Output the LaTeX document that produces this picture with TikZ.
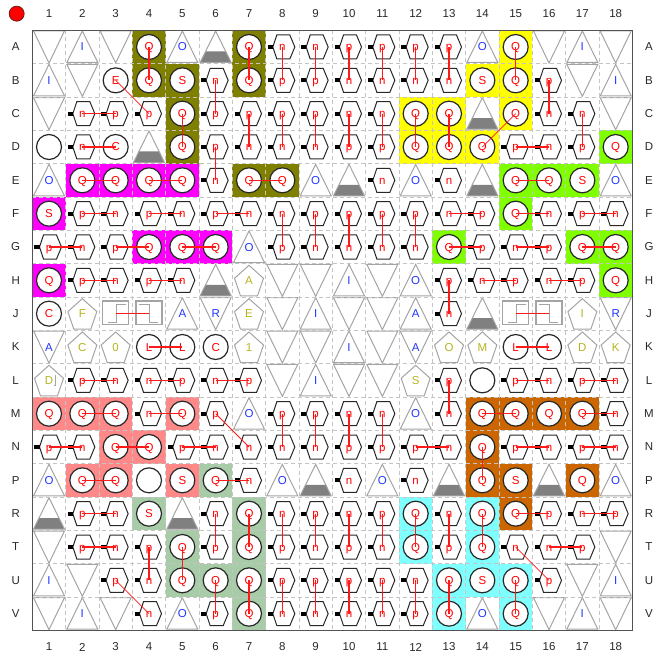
\documentclass[tikz,border=0pt]{standalone}
\usepackage{fontspec}
\setmainfont{Liberation Sans}
\definecolor{cellolive}{HTML}{808000}
\definecolor{cellmagenta}{HTML}{FF00FF}
\definecolor{cellyellow}{HTML}{FFFF00}
\definecolor{celllime}{HTML}{80FF00}
\definecolor{cellsalmon}{HTML}{FF8888}
\definecolor{cellorange}{HTML}{CC6600}
\definecolor{cellsage}{HTML}{A8CCA8}
\definecolor{cellcyan}{HTML}{80FFFF}
\definecolor{gridgrey}{HTML}{C4C4C4}
\definecolor{shapegrey}{HTML}{A4A4A4}
\definecolor{footgrey}{HTML}{808080}
\definecolor{hexdark}{HTML}{282828}
\definecolor{wirered}{HTML}{FF1A1A}
\definecolor{padblue}{HTML}{2036FF}
\definecolor{padolive}{HTML}{B4B41E}
\tikzset{
	atcell/.style={shift={(path picture bounding box.center)}},
	celltext/.style={inner sep=0pt,outer sep=0pt,text height=8pt,text depth=0pt,font=\fontsize{11.5}{12}\selectfont,text=#1},
	cellbox/.style={rectangle,inner sep=0pt,outer sep=0pt,minimum size=33.33pt},
	hx/.style={cellbox,label={[celltext=red]center:\txt},path picture={
		\draw[hexdark,line width=1pt,atcell] (-9.5pt,0pt) -- (-5.5pt,12pt) -- (7.5pt,12pt) -- (12.5pt,0pt) -- (7.5pt,-12pt) -- (-5.5pt,-12pt) -- cycle;
		\fill[black,atcell] (-14.5pt,-2pt) rectangle (-9.5pt,2pt);}},
	cr/.style={cellbox,label={[celltext=red]center:\txt},path picture={
		\filldraw[draw=hexdark,fill=white,line width=1.2pt,atcell] (0pt,0pt) circle (12.5pt);}},
	olv/.style={cr,fill=cellolive},
	mag/.style={cr,fill=cellmagenta},
	yel/.style={cr,fill=cellyellow},
	lim/.style={cr,fill=celllime},
	sal/.style={cr,fill=cellsalmon},
	org/.style={cr,fill=cellorange},
	sag/.style={cr,fill=cellsage},
	cyn/.style={cr,fill=cellcyan},
	tup/.style={cellbox,label={[celltext=padblue]center:\txt},path picture={
		\draw[shapegrey,line width=1pt,atcell] (0pt,16pt) -- (15.5pt,-15.5pt) -- (-15.5pt,-15.5pt) -- cycle;}},
	tdn/.style={cellbox,label={[celltext=padblue]center:\txt},path picture={
		\draw[shapegrey,line width=1pt,atcell] (0pt,-16pt) -- (15.5pt,16pt) -- (-15.5pt,16pt) -- cycle;}},
	gnd/.style={cellbox,path picture={
		\fill[footgrey,atcell] (-10.1pt,-4.5pt) -- (10.1pt,-4.5pt) -- (15.5pt,-15.5pt) -- (-15.5pt,-15.5pt) -- cycle;
		\draw[shapegrey,line width=1pt,atcell] (0pt,16pt) -- (15.5pt,-15.5pt) -- (-15.5pt,-15.5pt) -- cycle;}},
	pnt/.style={cellbox,label={[celltext=padolive]center:\txt},path picture={
		\draw[shapegrey,line width=1pt,atcell] (0pt,15pt) -- (14.5pt,2pt) -- (8.5pt,-15.5pt) -- (-8.5pt,-15.5pt) -- (-14.5pt,2pt) -- cycle;}},
	stpu/.style={cellbox,path picture={
		\draw[shapegrey,line width=1.4pt,atcell] (-13pt,-10.7pt) rectangle (13pt,12.7pt);
		\draw[shapegrey,line width=.9pt,atcell] (-8pt,-8.7pt) -- (.7pt,-8.7pt) -- (.7pt,9.7pt) -- (10pt,9.7pt);}},
	stpd/.style={cellbox,path picture={
		\draw[shapegrey,line width=1.4pt,atcell] (-13pt,-10.7pt) rectangle (13pt,12.7pt);
		\draw[shapegrey,line width=.9pt,atcell] (-10.5pt,9.7pt) -- (0pt,9.7pt) -- (0pt,-8.7pt) -- (8.5pt,-8.7pt);}},
	axislabel/.style={inner sep=0pt,text=hexdark,font=\fontsize{11.5}{12}\selectfont},
	wire/.style={wirered,line width=1.2pt},
	wirediag/.style={wirered,line width=.8pt}
}
\begin{document}
\begin{tikzpicture}[x=33.33pt,y=-33.33pt]
	\useasboundingbox (-0.47,-0.41) rectangle (19.21,19.27);
	\foreach \rowname/\cells [count=\rowy] in {
		A/{tdn/,tup/I,tdn/,olv/Q,tup/O,gnd/,olv/Q,hx/n,hx/n,hx/p,hx/p,hx/p,hx/p,tup/O,yel/Q,tdn/,tup/I,tdn/},
		B/{tup/I,tdn/,cr/E,olv/Q,olv/S,hx/n,olv/Q,hx/p,hx/p,hx/n,hx/n,hx/n,hx/n,yel/S,yel/Q,hx/p,tdn/,tup/I},
		C/{tdn/,hx/n,hx/p,hx/p,olv/Q,hx/p,hx/p,hx/p,hx/p,hx/n,hx/n,yel/Q,yel/Q,gnd/,yel/Q,hx/n,hx/n,tdn/},
		D/{cr/,hx/n,cr/C,gnd/,olv/Q,hx/p,hx/n,hx/n,hx/n,hx/p,hx/p,yel/Q,yel/Q,yel/Q,hx/p,hx/n,hx/p,lim/Q},
		E/{tup/O,mag/Q,mag/Q,mag/Q,mag/Q,hx/n,olv/Q,olv/Q,tup/O,gnd/,hx/n,tup/O,hx/n,gnd/,lim/Q,lim/Q,lim/S,tup/O},
		F/{mag/S,hx/p,hx/n,hx/p,hx/n,hx/p,hx/n,hx/n,hx/p,hx/p,hx/p,hx/p,hx/n,hx/p,lim/Q,hx/n,hx/p,hx/n},
		G/{hx/p,hx/n,hx/p,mag/Q,mag/Q,mag/Q,tup/O,hx/p,hx/n,hx/n,hx/n,hx/n,lim/Q,hx/p,hx/n,hx/p,lim/Q,lim/Q},
		H/{mag/Q,hx/p,hx/n,hx/p,hx/n,gnd/,pnt/A,tdn/,tdn/,tup/I,tdn/,tup/O,hx/p,hx/n,hx/p,hx/n,hx/p,lim/Q},
		J/{cr/C,pnt/F,stpu/,stpd/,tup/A,tdn/R,pnt/E,tdn/,tup/I,tdn/,tdn/,tup/A,hx/n,gnd/,stpu/,stpd/,pnt/I,tdn/R},
		K/{tdn/A,pnt/C,pnt/0,cr/L,cr/L,cr/C,pnt/1,tdn/,tdn/,tup/I,tdn/,tdn/A,pnt/O,pnt/M,cr/L,cr/L,pnt/D,pnt/K},
		L/{pnt/D,hx/p,hx/n,hx/n,hx/p,hx/n,hx/p,tdn/,tup/I,tdn/,tdn/,pnt/S,hx/p,cr/,hx/p,hx/n,hx/p,hx/n},
		M/{sal/Q,sal/Q,sal/Q,hx/n,sal/Q,hx/p,tup/O,hx/p,hx/p,hx/n,hx/n,tup/O,hx/n,org/Q,org/Q,org/Q,org/Q,hx/n},
		N/{hx/p,hx/n,sal/Q,sal/Q,hx/p,hx/n,hx/n,hx/n,hx/n,hx/p,hx/p,hx/p,hx/n,org/Q,hx/p,hx/n,hx/p,hx/n},
		P/{tup/O,sal/Q,sal/Q,cr/,sal/S,sag/Q,hx/n,tup/O,gnd/,hx/n,tup/O,hx/n,gnd/,org/Q,org/S,gnd/,org/Q,tup/O},
		R/{gnd/,hx/p,hx/n,sag/S,gnd/,hx/n,sag/Q,hx/n,hx/p,hx/n,hx/p,cyn/Q,hx/n,cyn/Q,org/Q,hx/p,hx/n,hx/p},
		T/{tdn/,hx/p,hx/n,hx/p,sag/Q,hx/p,sag/Q,hx/p,hx/n,hx/p,hx/n,cyn/Q,hx/p,cyn/Q,hx/n,hx/n,hx/p,tdn/},
		U/{tup/I,tdn/,hx/p,hx/n,sag/Q,sag/Q,sag/Q,hx/p,hx/p,hx/p,hx/p,hx/n,cyn/Q,cyn/S,cyn/Q,hx/p,tdn/,tup/I},
		V/{tdn/,tup/I,tdn/,hx/n,tup/O,hx/p,sag/Q,hx/n,hx/n,hx/n,hx/n,hx/p,cyn/Q,tup/O,cyn/Q,tdn/,tup/I,tdn/}} {
		\node[axislabel] (left\rowname) at (0,\rowy) {\rowname};
		\node[axislabel] (right\rowname) at (19,\rowy) {\rowname};
		\foreach \kind/\txt [count=\col] in \cells
			\node[\kind] (\rowname\col) at (\col,\rowy) {};
	}
	\foreach \col in {1,...,18} {
		\node[axislabel] (top\col) at (\col,0) {\col};
		\node[axislabel] (bot\col) at (\col,19) {\col};
	}
	\node[circle,inner sep=0pt,minimum size=15pt,fill=red,draw=hexdark!70!red,line width=.8pt] (pinone) at (0.03,0) {};
	\foreach \k in {1.5,2.5,...,17.5} {
		\draw[gridgrey,line width=.8pt,dash pattern=on 4pt off 3pt] (\k,.5) -- (\k,18.5);
		\draw[gridgrey,line width=.8pt,dash pattern=on 4pt off 3pt] (.5,\k) -- (18.5,\k);
	}
	\draw[hexdark!80,line width=1.4pt] (.5,.5) rectangle (18.5,18.5);
	\draw[shapegrey,line width=.8pt] ([shift={(4.5pt,-5pt)}]L1.center) -- ++(2pt,0pt) -- ++(0pt,10pt);
	\foreach \from/\to in {
		A4/B4,A7/B7,A8/B8,A9/B9,A10/B10,A11/B11,A12/B12,A13/B13,A15/B15,
		B6/C6,B16/C16,C2/C3,C5/D5,C7/D7,C8/D8,C9/D9,C10/D10,C11/D11,C12/D12,C13/D13,C17/D17,
		D2/D3,D6/E6,D15/D16,E2/E3,E4/E5,E7/E8,E15/E16,
		F2/F3,F4/F5,F6/F7,F8/G8,F9/G9,F10/G10,F11/G11,F12/G12,F13/F14,F15/F16,F17/F18,
		G1/G2,G3/G4,G5/G6,G13/G14,G15/G16,G17/G18,
		H2/H3,H4/H5,H13/J13,H14/H15,H16/H17,J3/J4,J15/J16,K4/K5,K15/K16,
		L2/L3,L4/L5,L6/L7,L13/M13,L15/L16,L17/L18,
		M2/M3,M4/M5,M8/N8,M9/N9,M10/N10,M11/N11,M14/M15,M17/M18,
		N1/N2,N3/N4,N5/N6,N12/N13,N14/P14,N15/N16,N17/N18,P2/P3,P6/P7,
		R2/R3,R6/T6,R7/T7,R8/T8,R9/T9,R10/T10,R11/T11,R12/T12,R13/T13,R14/T14,R15/R16,R17/R18,
		T2/T3,T4/U4,T5/U5,T16/T17,
		U6/V6,U7/V7,U8/V8,U9/V9,U10/V10,U11/V11,U12/V12,U13/V13,U15/V15}
		\draw[wire] (\from.center) -- (\to.center);
	\foreach \from/\to in {B3/C4,C15/D14,M6/N7,T15/U16,U3/V4}
		\draw[wirediag] (\from.center) -- (\to.center);
\end{tikzpicture}
\end{document}
